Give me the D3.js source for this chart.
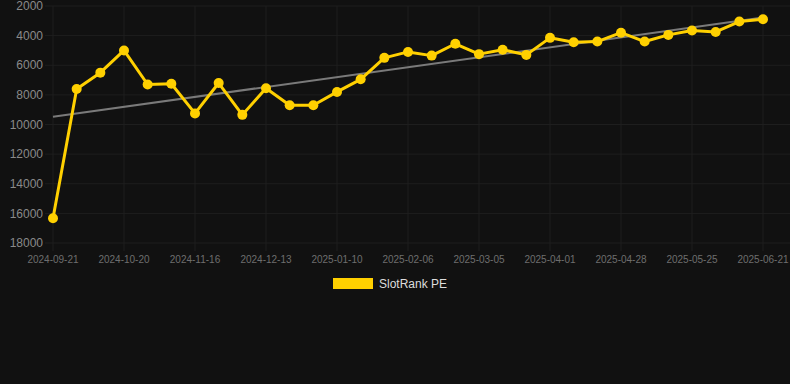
<!DOCTYPE html>
<html>
<head>
<meta charset="utf-8">
<script src="https://cdn.jsdelivr.net/npm/d3@7"></script>
<style>
  html, body { margin: 0; padding: 0; background: #111111; }
  svg { display: block; font-family: "Liberation Sans", Arial, sans-serif; }
</style>
</head>
<body>
<main></main>
<script>
const dates = [
  '2024-09-21', '2024-09-30', '2024-10-10', '2024-10-20', '2024-10-29',
  '2024-11-07', '2024-11-16', '2024-11-25', '2024-12-04', '2024-12-13',
  '2024-12-22', '2025-01-01', '2025-01-10', '2025-01-19', '2025-01-28',
  '2025-02-06', '2025-02-15', '2025-02-24', '2025-03-05', '2025-03-14',
  '2025-03-23', '2025-04-01', '2025-04-10', '2025-04-19', '2025-04-28',
  '2025-05-07', '2025-05-16', '2025-05-25', '2025-06-03', '2025-06-12',
  '2025-06-21',
];

const ranks = [
  16330, 7600, 6500, 5000, 7300, 7250, 9250, 7200, 9350, 7550,
  8700, 8700, 7800, 6950, 5500, 5100, 5350, 4550, 5250, 4950,
  5300, 4150, 4450, 4400, 3800, 4400, 3950, 3650, 3750, 3050,
  2900,
];

const yTicks = [2000, 4000, 6000, 8000, 10000, 12000, 14000, 16000, 18000];
const seriesLabel = 'SlotRank PE';

function drawChart() {
  const width = 790;
  const height = 384;
  const margin = { top: 6, right: 27, bottom: 141, left: 53 };

  const x = d3.scalePoint()
    .domain(dates)
    .range([margin.left, width - margin.right]);

  const y = d3.scaleLinear()
    .domain([2000, 18000])
    .range([margin.top, height - margin.bottom]);

  const labelled = dates.filter((d, i) => i % 3 === 0);

  // least squares trend over the series
  const n = ranks.length;
  const meanI = (n - 1) / 2;
  const meanV = d3.mean(ranks);
  const slope = d3.sum(ranks, (v, i) => (i - meanI) * (v - meanV)) /
    d3.sum(ranks, (v, i) => (i - meanI) ** 2);
  const trend = [0, n - 1].map(i => ({ date: dates[i], value: meanV + slope * (i - meanI) }));

  const svg = d3.select('main')
    .append('svg')
    .attr('width', width)
    .attr('height', height)
    .attr('viewBox', [0, 0, width, height]);

  const gridColor = '#1e1e1e';

  // horizontal grid + y labels
  const yAxis = svg.append('g');
  yAxis.selectAll('line')
    .data(yTicks)
    .enter()
    .append('line')
    .attr('x1', margin.left - 8)
    .attr('x2', width)
    .attr('y1', d => y(d))
    .attr('y2', d => y(d))
    .attr('stroke', gridColor)
    .attr('stroke-width', 1);
  yAxis.selectAll('text')
    .data(yTicks)
    .enter()
    .append('text')
    .attr('x', margin.left - 10)
    .attr('y', d => y(d))
    .attr('dy', '0.35em')
    .attr('text-anchor', 'end')
    .attr('font-size', 12)
    .attr('fill', '#8a8a8a')
    .text(d => d);

  // vertical grid + x labels
  const xAxis = svg.append('g');
  xAxis.selectAll('line')
    .data(labelled)
    .enter()
    .append('line')
    .attr('x1', d => x(d))
    .attr('x2', d => x(d))
    .attr('y1', margin.top)
    .attr('y2', height - margin.bottom + 8)
    .attr('stroke', gridColor)
    .attr('stroke-width', 1);
  xAxis.selectAll('text')
    .data(labelled)
    .enter()
    .append('text')
    .attr('x', d => x(d))
    .attr('y', height - margin.bottom + 20)
    .attr('text-anchor', 'middle')
    .attr('font-size', 10)
    .attr('fill', '#6e6e6e')
    .text(d => d);

  // trend line
  svg.append('path')
    .datum(trend)
    .attr('d', d3.line().x(d => x(d.date)).y(d => y(d.value)))
    .attr('fill', 'none')
    .attr('stroke', '#7a7a7a')
    .attr('stroke-width', 2);

  const points = dates.map((date, i) => ({ date, value: ranks[i] }));
  const yellow = '#ffd000';

  svg.append('path')
    .datum(points)
    .attr('d', d3.line().x(d => x(d.date)).y(d => y(d.value)))
    .attr('fill', 'none')
    .attr('stroke', yellow)
    .attr('stroke-width', 3)
    .attr('stroke-linejoin', 'round');

  svg.append('g')
    .selectAll('circle')
    .data(points)
    .enter()
    .append('circle')
    .attr('cx', d => x(d.date))
    .attr('cy', d => y(d.value))
    .attr('r', 5)
    .attr('fill', yellow);

  // legend
  const legend = svg.append('g').attr('transform', 'translate(333 278)');
  legend.append('rect')
    .attr('width', 40)
    .attr('height', 11)
    .attr('fill', yellow);
  legend.append('text')
    .attr('x', 46)
    .attr('y', 6)
    .attr('dy', '0.35em')
    .attr('font-size', 12)
    .attr('fill', '#dddddd')
    .text(seriesLabel);
}

drawChart();
</script>
</body>
</html>
